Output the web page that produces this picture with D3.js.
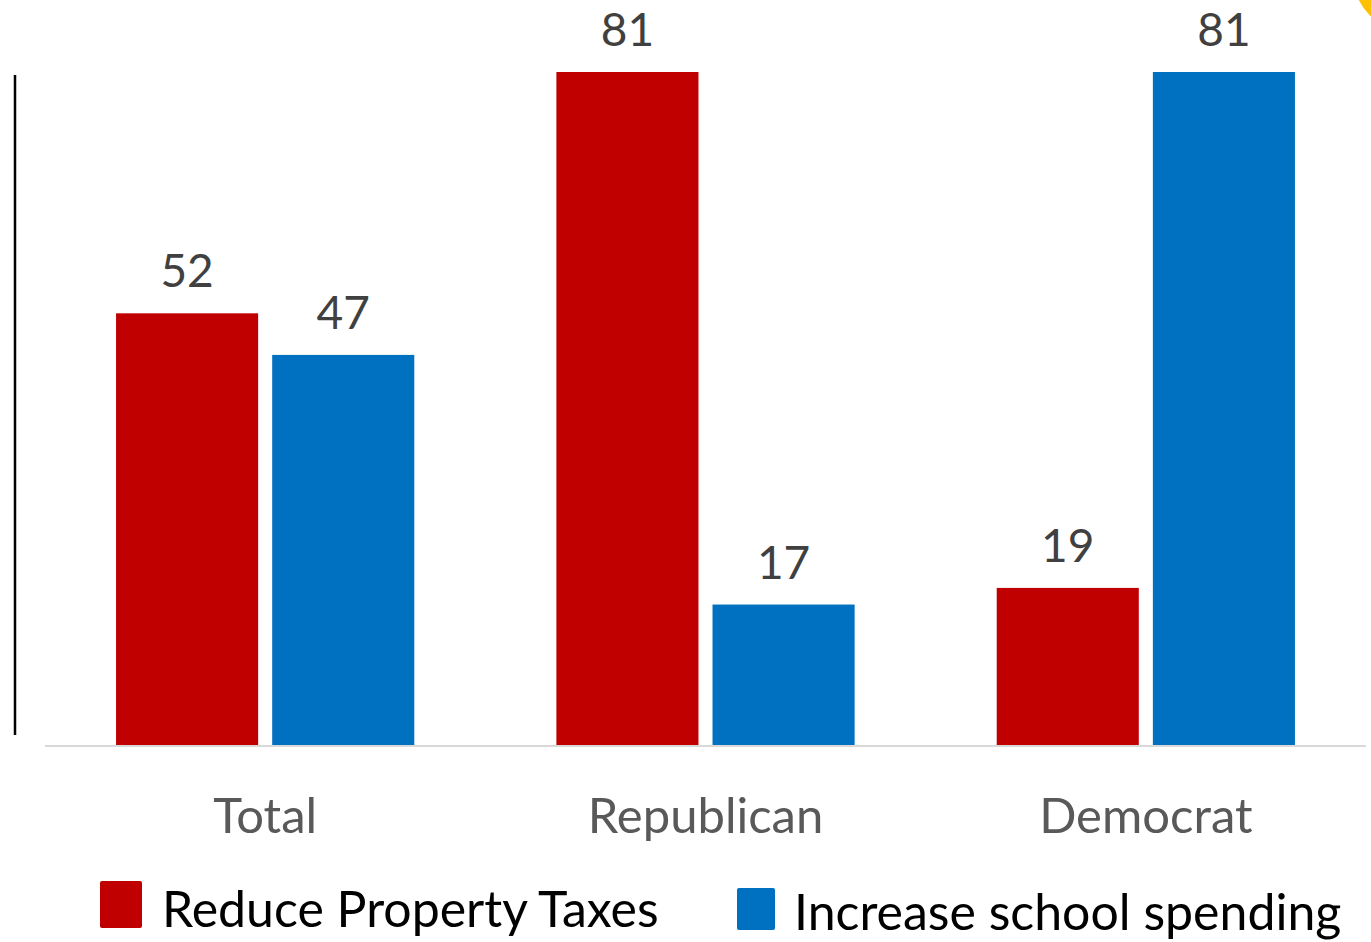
<!DOCTYPE html>
<meta charset="utf-8">
<script src="https://d3js.org/d3.v7.min.js"></script>
<style>
  body { margin: 0; background: #fff; }
  text { font-family: Lato, "Liberation Sans", sans-serif; }
</style>
<svg id="chart" width="1371" height="942"></svg>
<script>
  // data
  const categories = ["Total", "Republican", "Democrat"];
  const seriesNames = ["Reduce Property Taxes", "Increase school spending"];
  const reduceTaxes = [52, 81, 19];
  const increaseSpending = [47, 17, 81];
  const colors = ["#c00000", "#0070c0"];

  const svg = d3.select("#chart");
  const baseY = 746;

  const rows = categories.map((c, i) => ({
    cat: c,
    vals: [reduceTaxes[i], increaseSpending[i]]
  }));

  const x0 = d3.scaleBand().domain(categories).range([45, 1366]).padding(0);
  const x1 = d3.scaleBand().domain([0, 1]).range([0, x0.bandwidth()])
    .paddingInner(0.09).paddingOuter(0.455);
  const y = d3.scaleLinear().domain([0, 81]).range([baseY, 72]);

  // yellow decoration in top right corner
  svg.append("circle")
    .attr("cx", 1410).attr("cy", -25).attr("r", 57)
    .attr("fill", "#ffc000");

  // left vertical rule
  svg.append("line")
    .attr("x1", 15).attr("x2", 15).attr("y1", 75).attr("y2", 735)
    .attr("stroke", "#000").attr("stroke-width", 2.5);

  const g = svg.selectAll("g.grp").data(rows).join("g")
    .attr("class", "grp")
    .attr("transform", d => `translate(${x0(d.cat)},0)`);

  g.selectAll("rect").data(d => d.vals.map((v, k) => ({ v, k })))
    .join("rect")
    .attr("x", d => x1(d.k))
    .attr("width", x1.bandwidth())
    .attr("y", d => y(d.v))
    .attr("height", d => baseY - y(d.v))
    .attr("fill", d => colors[d.k]);

  g.selectAll("text.val").data(d => d.vals.map((v, k) => ({ v, k })))
    .join("text")
    .attr("class", "val")
    .attr("x", d => x1(d.k) + x1.bandwidth() / 2)
    .attr("y", d => y(d.v) - 26)
    .attr("text-anchor", "middle")
    .attr("font-size", 46)
    .attr("fill", "#404040")
    .text(d => d.v);

  // baseline
  svg.append("line")
    .attr("x1", 45).attr("x2", 1366).attr("y1", baseY).attr("y2", baseY)
    .attr("stroke", "#d9d9d9").attr("stroke-width", 2);

  // category labels
  svg.selectAll("text.cat").data(categories).join("text")
    .attr("class", "cat")
    .attr("x", d => x0(d) + x0.bandwidth() / 2)
    .attr("y", 833)
    .attr("text-anchor", "middle")
    .attr("font-size", 49)
    .attr("fill", "#595959")
    .text(d => d);

  // legend
  const legend = [
    { x: 100, y: 881, w: 42, h: 47, ty: 927, tx: 162 },
    { x: 737, y: 888, w: 38, h: 42, ty: 930, tx: 794 }
  ];
  legend.forEach((l, i) => {
    svg.append("rect")
      .attr("x", l.x).attr("y", l.y).attr("width", l.w).attr("height", l.h)
      .attr("rx", 2).attr("fill", colors[i]);
    svg.append("text")
      .attr("x", l.tx).attr("y", l.ty)
      .attr("font-size", 50)
      .attr("fill", "#000")
      .text(seriesNames[i]);
  });
</script>
